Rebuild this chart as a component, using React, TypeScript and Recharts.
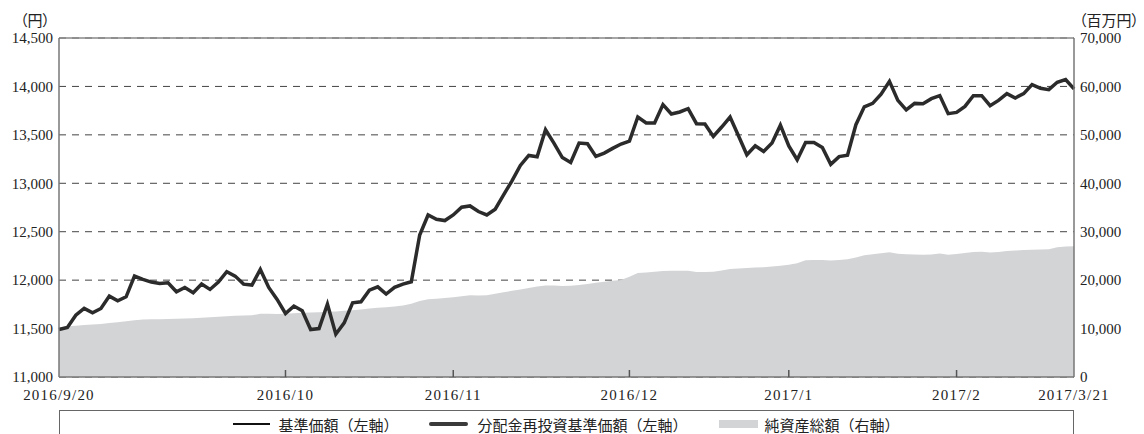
import { ComposedChart, Line, Area, XAxis, YAxis, CartesianGrid, ReferenceLine } from "recharts";

// 基準価額 (円), business-day points 2016/9/20 .. 2017/3/21
const basePrice = [
  11490, 11511, 11638, 11708, 11662, 11708, 11835, 11787, 11828, 12042,
  12008, 11980, 11966, 11973, 11880, 11925, 11869, 11959, 11904, 11980,
  12087, 12042, 11959, 11949, 12111, 11925, 11801, 11656, 11732, 11683,
  11490, 11500, 11752, 11442, 11559, 11766, 11776, 11897, 11931, 11856,
  11925, 11959, 11983, 12466, 12673, 12629, 12615, 12673, 12753, 12766,
  12708, 12673, 12732, 12880, 13025, 13184, 13287, 13274, 13553, 13415,
  13266, 13215, 13415, 13408, 13277, 13312, 13360, 13405, 13436, 13684,
  13622, 13622, 13812, 13715, 13736, 13770, 13615, 13612, 13484, 13581,
  13684, 13490, 13294, 13388, 13329, 13415, 13600, 13385, 13243, 13422,
  13422, 13370, 13195, 13275, 13290, 13605, 13790, 13825, 13920, 14053,
  13856, 13757, 13825, 13822, 13874, 13905, 13719, 13732, 13794, 13905,
  13905, 13801, 13856, 13926, 13881, 13926, 14019, 13981, 13967, 14043,
  14071, 13974,
];

// no distributions in the period, so the reinvested series sits on the same values
const reinvestPrice = [...basePrice];

// 純資産総額 (百万円)
const netAssets = [
  10200, 10500, 10600, 10750, 10850, 10950, 11150, 11300, 11500, 11700,
  11850, 11900, 11950, 12000, 12050, 12100, 12150, 12250, 12350, 12450,
  12550, 12650, 12700, 12750, 13050, 13050, 13000, 13050, 13150, 13250,
  13300, 13350, 13450, 13550, 13700, 13800, 13950, 14150, 14300, 14400,
  14550, 14750, 15100, 15700, 16050, 16150, 16300, 16450, 16650, 16900,
  16850, 16900, 17200, 17500, 17800, 18050, 18400, 18700, 18900, 18900,
  18800, 18850, 19000, 19200, 19450, 19650, 19850, 20050, 20700, 21500,
  21600, 21750, 21900, 21950, 21950, 21950, 21700, 21700, 21750, 22000,
  22300, 22400, 22500, 22600, 22650, 22800, 22950, 23200, 23500, 24100,
  24150, 24150, 24050, 24150, 24300, 24700, 25150, 25350, 25550, 25750,
  25450, 25350, 25300, 25250, 25300, 25500, 25250, 25400, 25600, 25800,
  25850, 25700, 25800, 26000, 26100, 26200, 26300, 26350, 26400, 26800,
  26950, 27000,
];

const leftTicks = [11000, 11500, 12000, 12500, 13000, 13500, 14000, 14500];
const rightTicks = [0, 10000, 20000, 30000, 40000, 50000, 60000, 70000];
const xTickIndex = [0, 27, 47, 68, 87, 107, 121];
const xTickLabels = ["2016/9/20", "2016/10", "2016/11", "2016/12", "2017/1", "2017/2", "2017/3/21"];

const data = basePrice.map((v, i) => ({
  i,
  base: v,
  reinvest: reinvestPrice[i],
  assets: netAssets[i],
}));

const LAST = basePrice.length - 1;
const SERIF = "'Liberation Serif', 'Noto Sans CJK JP', serif";
const JP = "'Noto Sans CJK JP', sans-serif";
const fmt = (v: number) => v.toLocaleString("en-US");

const unitStyle = {
  position: "absolute" as const,
  top: 19,
  transform: "translate(-50%,-50%)",
  fontFamily: JP,
  fontSize: 15,
  color: "#222",
  whiteSpace: "nowrap" as const,
  fontFeatureSettings: "'palt'",
};

function DateTick(props: any) {
  const { x, y, payload } = props;
  const k = xTickIndex.indexOf(payload.value);
  const inner = payload.value !== 0 && payload.value !== LAST;
  return (
    <g>
      {inner && <line x1={x} x2={x} y1={y} y2={y - 7} stroke="#555" strokeWidth={1.5} />}
      <text x={x} y={y + 23} textAnchor="middle" fontSize={15} fontFamily={SERIF} fill="#222" letterSpacing={1.2}>
        {xTickLabels[k]}
      </text>
    </g>
  );
}

export default function App() {
  return (
    <div style={{ position: "fixed", left: 0, top: 0, width: 1144, height: 434, background: "#fff", overflow: "hidden" }}>
      <div style={{ ...unitStyle, left: 35 }}>（円）</div>
      <div style={{ ...unitStyle, left: 1109 }}>（百万円）</div>
      <ComposedChart width={1144} height={434} data={data} margin={{ top: 38, right: 10, bottom: 27, left: 4 }}>
        <CartesianGrid yAxisId="left" vertical={false} stroke="#444" strokeDasharray="7 6" />
        <XAxis
          dataKey="i"
          type="number"
          domain={[0, LAST]}
          ticks={xTickIndex}
          interval={0}
          height={30}
          tickLine={false}
          tickSize={0}
          tickMargin={0}
          axisLine={{ stroke: "#777", strokeWidth: 1.5 }}
          tick={<DateTick />}
        />
        <YAxis
          yAxisId="left"
          domain={[11000, 14500]}
          ticks={leftTicks}
          interval={0}
          width={55}
          tickLine={false}
          tickSize={0}
          tickMargin={6}
          axisLine={{ stroke: "#777", strokeWidth: 1.5 }}
          tickFormatter={fmt}
          tick={{ fontSize: 15, fill: "#222", fontFamily: SERIF }}
        />
        <YAxis
          yAxisId="right"
          orientation="right"
          domain={[0, 70000]}
          ticks={rightTicks}
          interval={0}
          width={60}
          tickLine={false}
          tickSize={0}
          tickMargin={6}
          axisLine={{ stroke: "#777", strokeWidth: 1.5 }}
          tickFormatter={fmt}
          tick={{ fontSize: 15, fill: "#222", fontFamily: SERIF, textAnchor: "start" }}
        />
        <Area
          yAxisId="right"
          type="linear"
          dataKey="assets"
          stroke="none"
          fill="#d3d4d6"
          fillOpacity={1}
          isAnimationActive={false}
        />
        <Line yAxisId="left" type="linear" dataKey="base" stroke="#111" strokeWidth={1.5} dot={false} isAnimationActive={false} />
        <Line yAxisId="left" type="linear" dataKey="reinvest" stroke="#2b2b2b" strokeWidth={3.5} dot={false} isAnimationActive={false} />
        <ReferenceLine yAxisId="left" y={14500} stroke="#888" strokeWidth={1.5} />
      </ComposedChart>
      <div
        style={{
          position: "absolute",
          left: 59,
          top: 410,
          width: 1015,
          height: 40,
          boxSizing: "border-box",
          borderTop: "1.5px solid #666",
          borderLeft: "1.5px solid #666",
          borderRight: "1.5px solid #666",
          display: "flex",
          justifyContent: "center",
          alignItems: "flex-start",
          fontFamily: JP,
          fontSize: 15,
          color: "#222",
        }}
      >
        <div style={{ display: "flex", alignItems: "center", height: 26, gap: 31 }}>
          <div style={{ display: "flex", alignItems: "center" }}>
            <span style={{ display: "inline-block", width: 37, height: 2, background: "#111" }} />
            <span style={{ marginLeft: 8 }}>基準価額（左軸）</span>
          </div>
          <div style={{ display: "flex", alignItems: "center" }}>
            <span style={{ display: "inline-block", width: 39, height: 4, background: "#3a3a3a", borderRadius: 2 }} />
            <span style={{ marginLeft: 9 }}>分配金再投資基準価額（左軸）</span>
          </div>
          <div style={{ display: "flex", alignItems: "center" }}>
            <span style={{ display: "inline-block", width: 39, height: 8, background: "#d3d4d6" }} />
            <span style={{ marginLeft: 7 }}>純資産総額（右軸）</span>
          </div>
        </div>
      </div>
    </div>
  );
}
